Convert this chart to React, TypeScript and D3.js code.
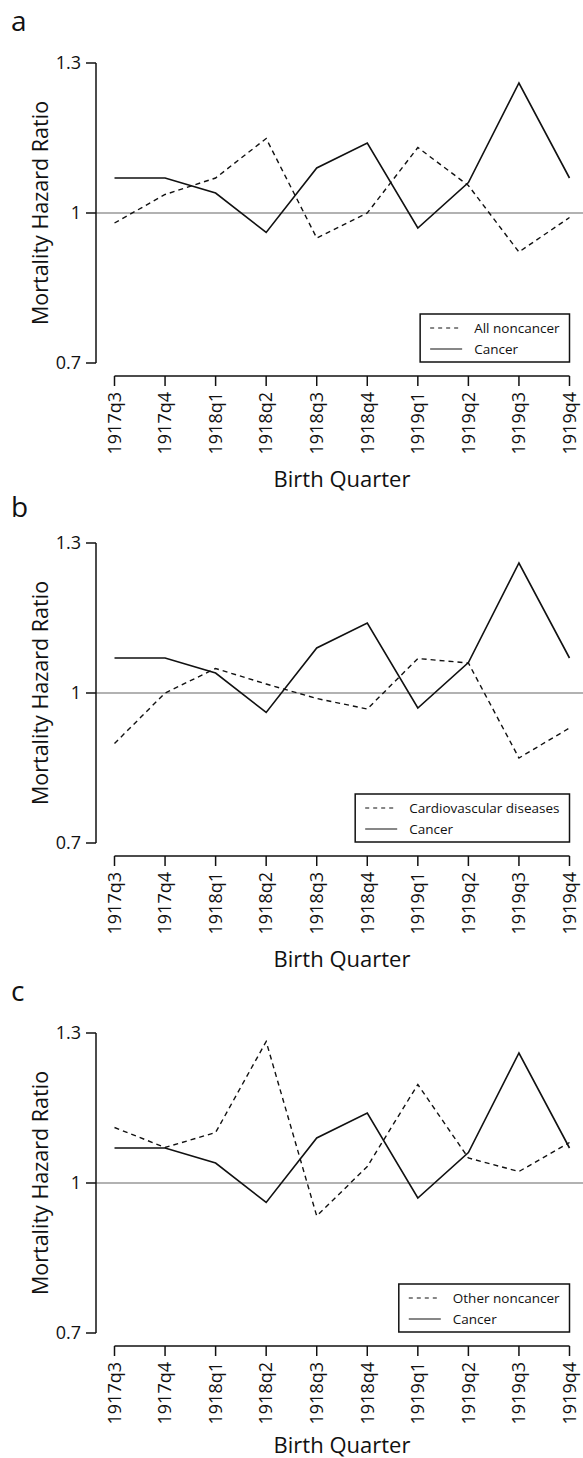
import * as d3 from "d3";
import { useEffect, useRef } from "react";

const quarters = [
  "1917q3", "1917q4", "1918q1", "1918q2", "1918q3",
  "1918q4", "1919q1", "1919q2", "1919q3", "1919q4",
];

const cancer = [1.07, 1.07, 1.04, 0.961, 1.09, 1.14, 0.97, 1.061, 1.26, 1.07];
const allNoncancer = [0.98, 1.037, 1.07, 1.149, 0.95, 1.0, 1.131, 1.055, 0.922, 0.991];
const cardiovascular = [0.899, 1.0, 1.049, 1.018, 0.989, 0.968, 1.069, 1.06, 0.87, 0.93];
const otherNoncancer = [1.111, 1.071, 1.101, 1.283, 0.934, 1.033, 1.197, 1.05, 1.023, 1.081];

const yTicks = [0.7, 1, 1.3];
const panelLetters = ["a", "b", "c"];
const dashedLabels = ["All noncancer", "Cardiovascular diseases", "Other noncancer"];
const dashedSeries = [allNoncancer, cardiovascular, otherNoncancer];

const FONT = "'Open Sans', sans-serif";

export default function App() {
  const ref = useRef<SVGSVGElement>(null);

  useEffect(() => {
    document.body.style.margin = "0";
    if (!ref.current) return;
    const svg = d3.select(ref.current);
    svg.selectAll("*").remove();

    const width = 583;
    const height = 1458;
    svg.attr("width", width).attr("height", height);

    // top of each panel (y of 1.3) and its letter baseline
    const panelTops = [63, 543, 1033];
    const letterY = [31, 517, 1001];
    const plotH = 300;
    const axisX = 96;

    const x = d3.scalePoint<string>().domain(quarters).range([114.5, 569.5]);

    panelTops.forEach((top, p) => {
      const y = d3.scaleLinear().domain([0.7, 1.3]).range([top + plotH, top]);
      const g = svg.append("g");

      g.append("text")
        .attr("x", 11)
        .attr("y", letterY[p])
        .attr("font-family", FONT)
        .attr("font-size", "28px")
        .attr("fill", "#111")
        .text(panelLetters[p]);

      // reference line at 1
      g.append("line")
        .attr("x1", axisX)
        .attr("x2", width)
        .attr("y1", y(1))
        .attr("y2", y(1))
        .attr("stroke", "#999")
        .attr("stroke-width", 1.6);

      // y axis
      const yAxis = g.append("g").attr("transform", `translate(${axisX},0)`);
      yAxis.append("line")
        .attr("y1", y(1.3)).attr("y2", y(0.7))
        .attr("stroke", "#111").attr("stroke-width", 1.5);
      yTicks.forEach(t => {
        yAxis.append("line")
          .attr("x1", -10).attr("x2", 0)
          .attr("y1", y(t)).attr("y2", y(t))
          .attr("stroke", "#111").attr("stroke-width", 1.5);
        yAxis.append("text")
          .attr("x", -15)
          .attr("y", y(t))
          .attr("dy", "0.35em")
          .attr("text-anchor", "end")
          .attr("font-family", FONT)
          .attr("font-size", "18px")
          .attr("fill", "#111")
          .text(String(t));
      });

      g.append("text")
        .attr("transform", `translate(40,${y(1)}) rotate(-90)`)
        .attr("text-anchor", "middle")
        .attr("dy", "0.35em")
        .attr("font-family", FONT)
        .attr("font-size", "21.5px")
        .attr("fill", "#111")
        .text("Mortality Hazard Ratio");

      // x axis
      const axisY = y(0.7) + 13;
      const xAxis = g.append("g").attr("transform", `translate(0,${axisY})`);
      xAxis.append("line")
        .attr("x1", x(quarters[0])!).attr("x2", x(quarters[quarters.length - 1])!)
        .attr("stroke", "#111").attr("stroke-width", 1.5);
      quarters.forEach(q => {
        xAxis.append("line")
          .attr("x1", x(q)!).attr("x2", x(q)!)
          .attr("y1", 0).attr("y2", 10)
          .attr("stroke", "#111").attr("stroke-width", 1.5);
        xAxis.append("text")
          .attr("transform", `translate(${x(q)},16) rotate(-90)`)
          .attr("text-anchor", "end")
          .attr("dy", "0.35em")
          .attr("font-family", FONT)
          .attr("font-size", "18px")
          .attr("fill", "#111")
          .text(q);
      });

      g.append("text")
        .attr("x", (x(quarters[0])! + x(quarters[quarters.length - 1])!) / 2)
        .attr("y", Math.min(axisY + 111, height - 5))
        .attr("text-anchor", "middle")
        .attr("font-family", FONT)
        .attr("font-size", "22px")
        .attr("fill", "#111")
        .text("Birth Quarter");

      // series
      const line = d3.line<number>()
        .x((_, i) => x(quarters[i])!)
        .y(d => y(d));

      g.append("path")
        .attr("d", line(dashedSeries[p]))
        .attr("fill", "none")
        .attr("stroke", "#111")
        .attr("stroke-width", 1.4)
        .attr("stroke-dasharray", "5,4");

      g.append("path")
        .attr("d", line(cancer))
        .attr("fill", "none")
        .attr("stroke", "#111")
        .attr("stroke-width", 1.6);

      // legend
      const legend = g.append("g");
      const box = legend.append("rect");
      const labels = [dashedLabels[p], "Cancer"];
      const texts = labels.map((lab, i) =>
        legend.append("text")
          .attr("y", i * 21)
          .attr("dy", "0.35em")
          .attr("font-family", FONT)
          .attr("font-size", "13.5px")
          .attr("fill", "#111")
          .text(lab)
      );
      const textW = d3.max(texts, t => (t.node() as SVGTextElement).getComputedTextLength()) ?? 100;
      const right = x(quarters[quarters.length - 1])!;
      const boxW = 10 + 32 + 12 + textW + 10;
      const boxH = 48;
      const left = right - boxW;
      const boxTop = y(0.7) - 1 - boxH;
      box.attr("x", left).attr("y", boxTop)
        .attr("width", boxW).attr("height", boxH)
        .attr("fill", "white").attr("stroke", "#111").attr("stroke-width", 1.5);
      const row0 = boxTop + 14;
      texts.forEach((t, i) => t.attr("x", left + 54).attr("y", row0 + i * 21));
      [0, 1].forEach(i => {
        legend.append("line")
          .attr("x1", left + 10).attr("x2", left + 42)
          .attr("y1", row0 + i * 21).attr("y2", row0 + i * 21)
          .attr("stroke", "#111").attr("stroke-width", 1.2)
          .attr("stroke-dasharray", i === 0 ? "4,4" : null);
      });
    });
  }, []);

  return <svg ref={ref} style={{ display: "block" }} />;
}
